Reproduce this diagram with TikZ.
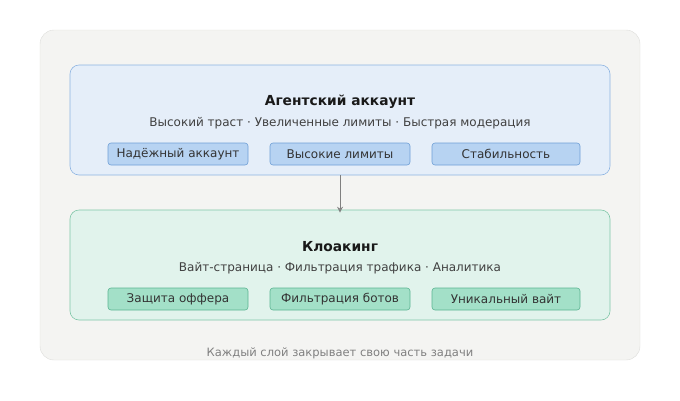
\documentclass[tikz,border=0pt]{standalone}
\usepackage{fontspec}
\setmainfont{DejaVu Sans}
\usetikzlibrary{arrows.meta}
\begin{document}
\begin{tikzpicture}[x=1pt,y=-1pt,
  panel/.style={draw=#1, rounded corners=9pt, line width=0.6pt},
  chip/.style={draw=#1, rounded corners=3pt, line width=0.6pt, minimum height=22pt, inner sep=0pt, font=\fontsize{12}{13}\selectfont, text=black!80},
  ttl/.style={font=\fontsize{13.8}{15}\selectfont\bfseries, text=black!90},
  sub/.style={font=\fontsize{12}{13}\selectfont, text=black!75}]
\definecolor{outerf}{HTML}{F4F4F2}\definecolor{outerd}{HTML}{DDDDDA}
\definecolor{bluef}{HTML}{E5EEF9}\definecolor{blued}{HTML}{8DB4E2}
\definecolor{chipbf}{HTML}{B7D3F2}\definecolor{chipbd}{HTML}{6F9FD6}
\definecolor{greenf}{HTML}{E1F3EC}\definecolor{greend}{HTML}{7FC7A8}
\definecolor{chipgf}{HTML}{A3E0C8}\definecolor{chipgd}{HTML}{5BB592}
\useasboundingbox (0,0) rectangle (680,400);
\filldraw[fill=outerf, draw=outerd, rounded corners=14pt] (40,30) rectangle (640,360);
\node[panel=blued, fill=bluef, minimum width=540pt, minimum height=110pt] (top) at (340,120) {};
\node[ttl] (t1) at (340,102) {Агентский аккаунт};
\node[sub] (s1) at (340,123) {Высокий траст · Увеличенные лимиты · Быстрая модерация};
\node[chip=chipbd, fill=chipbf, minimum width=140pt] (a1) at (178,154) {Надёжный аккаунт};
\node[chip=chipbd, fill=chipbf, minimum width=140pt] (a2) at (340,154) {Высокие лимиты};
\node[chip=chipbd, fill=chipbf, minimum width=148pt] (a3) at (506,154) {Стабильность};
\node[panel=greend, fill=greenf, minimum width=540pt, minimum height=110pt] (bot) at (340,265) {};
\node[ttl] (t2) at (340,247) {Клоакинг};
\node[sub] (s2) at (340,268) {Вайт-страница · Фильтрация трафика · Аналитика};
\node[chip=chipgd, fill=chipgf, minimum width=140pt] (b1) at (178,299) {Защита оффера};
\node[chip=chipgd, fill=chipgf, minimum width=140pt] (b2) at (340,299) {Фильтрация ботов};
\node[chip=chipgd, fill=chipgf, minimum width=148pt] (b3) at (506,299) {Уникальный вайт};
\draw[-{Stealth[length=6pt,width=6pt,open]}, draw=black!50, line width=0.9pt] (top.south) -- ([yshift=-3pt]bot.north);
\node[font=\fontsize{11.5}{13}\selectfont, text=black!50] (cap) at (340,353) {Каждый слой закрывает свою часть задачи};
\end{tikzpicture}
\end{document}
